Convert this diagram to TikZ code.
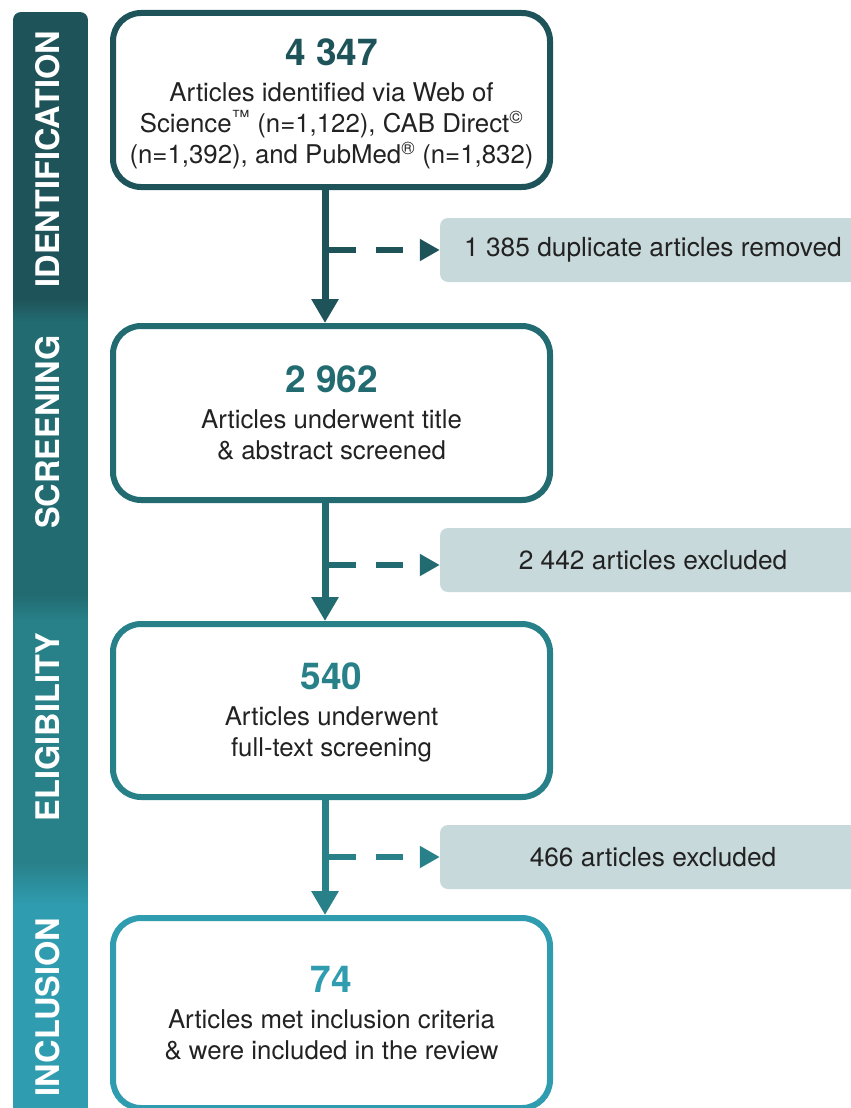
\documentclass[tikz,border=0pt]{standalone}
\usepackage{fontspec}
\setmainfont{TeX Gyre Heros}
\usetikzlibrary{arrows.meta}

\definecolor{identcol}{HTML}{1E5459}
\definecolor{screencol}{HTML}{226B71}
\definecolor{eligcol}{HTML}{288089}
\definecolor{inclcol}{HTML}{2F9CAF}
\definecolor{sidecol}{HTML}{C8D9DB}
\definecolor{textcol}{HTML}{222222}

\newcommand{\bignum}[2]{{\fontsize{37}{40}\selectfont\bfseries\color{#1}#2}}

\begin{document}
\begin{tikzpicture}[x=1pt, y=-1pt,
    stage/.style={draw, line width=6pt, rounded corners=28pt, fill=white,
      minimum width=437pt, align=center, text=textcol, inner sep=0pt,
      font=\fontsize{25.8}{31}\selectfont},
    sidebox/.style={fill=sidecol, rounded corners=8pt, minimum width=426pt,
      minimum height=64pt, text=textcol, inner sep=0pt,
      font=\fontsize{26.3}{31}\selectfont},
    phase/.style={rotate=90, text=white, inner sep=0pt,
      font=\fontsize{32.5}{36}\selectfont\bfseries},
    flow/.style={line width=7pt, -{Triangle[width=26pt, length=24pt]}},
    branch/.style={line width=6.5pt, dash pattern=on 27pt off 20pt,
      -{Triangle[width=21pt, length=20pt]}}
  ]

        \clip (0, 0) rectangle (851, 1108);

        % phase bar on the left
        \begin{scope}
            \clip[rounded corners=8pt] (13, 12) rectangle (88, 1140);
            \fill[identcol] (13, 12) rectangle (88, 300);
            \shade[top color=identcol, bottom color=screencol] (13, 299) rectangle (88, 322);
            \fill[screencol] (13, 321) rectangle (88, 596);
            \shade[top color=screencol, bottom color=eligcol] (13, 595) rectangle (88, 620);
            \fill[eligcol] (13, 619) rectangle (88, 862);
            \shade[top color=eligcol, bottom color=inclcol] (13, 861) rectangle (88, 905);
            \fill[inclcol] (13, 904) rectangle (88, 1140);
        \end{scope}

        \node[phase] (lident) at (48, 159) {IDENTIFICATION};
        \node[phase] (lscreen) at (48, 432) {SCREENING};
        \node[phase] (lelig) at (48, 727) {ELIGIBILITY};
        \node[phase] (lincl) at (48, 1007) {INCLUSION};

        % main boxes
        \node[stage, draw=identcol, minimum height=174pt] (ident) at (331.5, 100)
            {\rule{0pt}{35pt}\bignum{identcol}{4 347}\\[5pt] Articles identified via Web of\\
             Science\textsuperscript{™} (n=1,122), CAB Direct\textsuperscript{©}\\
             (n=1,392), and PubMed\textsuperscript{®} (n=1,832)};
        \node[stage, draw=screencol, minimum height=174pt] (screen) at (331.5, 413)
            {\bignum{screencol}{2 962}\\[5pt] Articles underwent title\\ \& abstract screened};
        \node[stage, draw=eligcol, minimum height=173pt] (elig) at (331.5, 710.5)
            {\rule{0pt}{31pt}\bignum{eligcol}{540}\\[5pt] Articles underwent\\ full-text screening};
        \node[stage, draw=inclcol, minimum height=190pt] (incl) at (331.5, 1013)
            {\bignum{inclcol}{74}\\[5pt] Articles met inclusion criteria\\ \& were included in the review};

        % boxes on the right
        \node[sidebox] (dupl) at (653, 250) {1 385 duplicate articles removed};
        \node[sidebox] (excla) at (653, 560) {2 442 articles excluded};
        \node[sidebox] (exclb) at (653, 857) {466 articles excluded};

        \coordinate (c1) at ([xshift=-6.5pt]ident.south);
        \coordinate (c2) at ([xshift=-6.5pt]screen.south);
        \coordinate (c3) at ([xshift=-6.5pt]elig.south);
        \coordinate (b1) at ([xshift=3.5pt]c1);
        \coordinate (b2) at ([xshift=3.5pt]c2);
        \coordinate (b3) at ([xshift=3.5pt]c3);
        \coordinate (e2) at ([yshift=-5pt]excla.west);

        \draw[flow, identcol] (c1) -- (c1 |- screen.north);
        \draw[flow, screencol] (c2) -- (c2 |- elig.north);
        \draw[flow, eligcol] (c3) -- (c3 |- incl.north);

        \draw[branch, identcol] (b1 |- dupl.west) -- (dupl.west);
        \draw[branch, screencol] (b2 |- e2) -- (e2);
        \draw[branch, eligcol] (b3 |- exclb.west) -- (exclb.west);
    \end{tikzpicture}
\end{document}
